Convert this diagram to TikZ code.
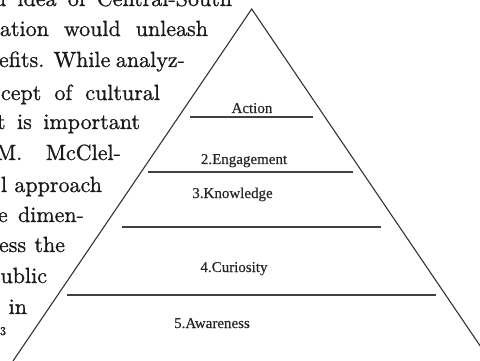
\documentclass[tikz,border=0pt]{standalone}
\usepackage{fontspec}
\newfontfamily\lvlfont{Liberation Serif}[FakeBold=0.4]
\newfontfamily\bodyfont{lmroman10-regular.otf}[FakeBold=0.9]
\newcommand\bodyline[5]{\node[body] (#1) at (#2,#3) {\makebox[#4pt][s]{#5}};}
\begin{document}
\begin{tikzpicture}[x=1pt,y=-1pt,
  body/.style={anchor=base west, inner sep=0pt, outer sep=0pt, font=\bodyfont\fontsize{22}{26}\selectfont, text=black!90},
  bodyend/.style={anchor=base east, inner sep=0pt, outer sep=0pt, font=\bodyfont\fontsize{22}{26}\selectfont, text=black!90},
  lvl/.style={anchor=base, inner sep=0pt, outer sep=0pt, font=\lvlfont\fontsize{15}{18}\selectfont, text=black!85},
  side/.style={draw=black!80, line width=1.1pt},
  bar/.style={draw=black!75, line width=1.3pt}]
\useasboundingbox (0,0) rectangle (480,361);
\clip (0,0) rectangle (480,361);
% body text wrapped round the pyramid
\bodyline{b1}{-6}{6}{238}{d idea of Central-South}
\bodyline{b2}{0}{36}{208}{ation would unleash}
\bodyline{b3}{-1}{67}{186}{efits. While analyz-}
\bodyline{b4}{1}{100}{159}{cept of cultural}
\bodyline{b5}{-3}{129}{143}{t is important}
\bodyline{b6}{-4}{160}{125}{M. McClel-}
\bodyline{b7}{1}{192}{101}{l approach}
\bodyline{b8}{-2}{222}{86}{e dimen-}
\bodyline{b9}{-1}{252}{66}{ess the}
\node[bodyend] (b10) at (47,283) {ublic};
\node[bodyend] (b11) at (27,314) {in};
\node[bodyend, font=\bodyfont\fontsize{12}{14}\selectfont] (b12) at (6,335) {3};
% pyramid
\coordinate (apex) at (251.7,9);
\coordinate (bl) at (13,361);
\coordinate (br) at (490.4,361);
\draw[side] (bl) -- (apex) -- (br);
% level separators
\coordinate (s1a) at (190,117); \coordinate (s1b) at (313,117);
\coordinate (s2a) at (148,172); \coordinate (s2b) at (353,172);
\coordinate (s3a) at (122,227); \coordinate (s3b) at (381,227);
\coordinate (s4a) at (67,295);  \coordinate (s4b) at (436,295);
\draw[bar] (s1a) -- (s1b);
\draw[bar] (s2a) -- (s2b);
\draw[bar] (s3a) -- (s3b);
\draw[bar] (s4a) -- (s4b);
% level labels
\node[lvl] (l1) at (252,113) {Action};
\node[lvl] (l2) at (244,164) {2.Engagement};
\node[lvl] (l3) at (232.5,198) {3.Knowledge};
\node[lvl] (l4) at (234,272) {4.Curiosity};
\node[lvl] (l5) at (212,328) {5.Awareness};
\end{tikzpicture}
\end{document}
